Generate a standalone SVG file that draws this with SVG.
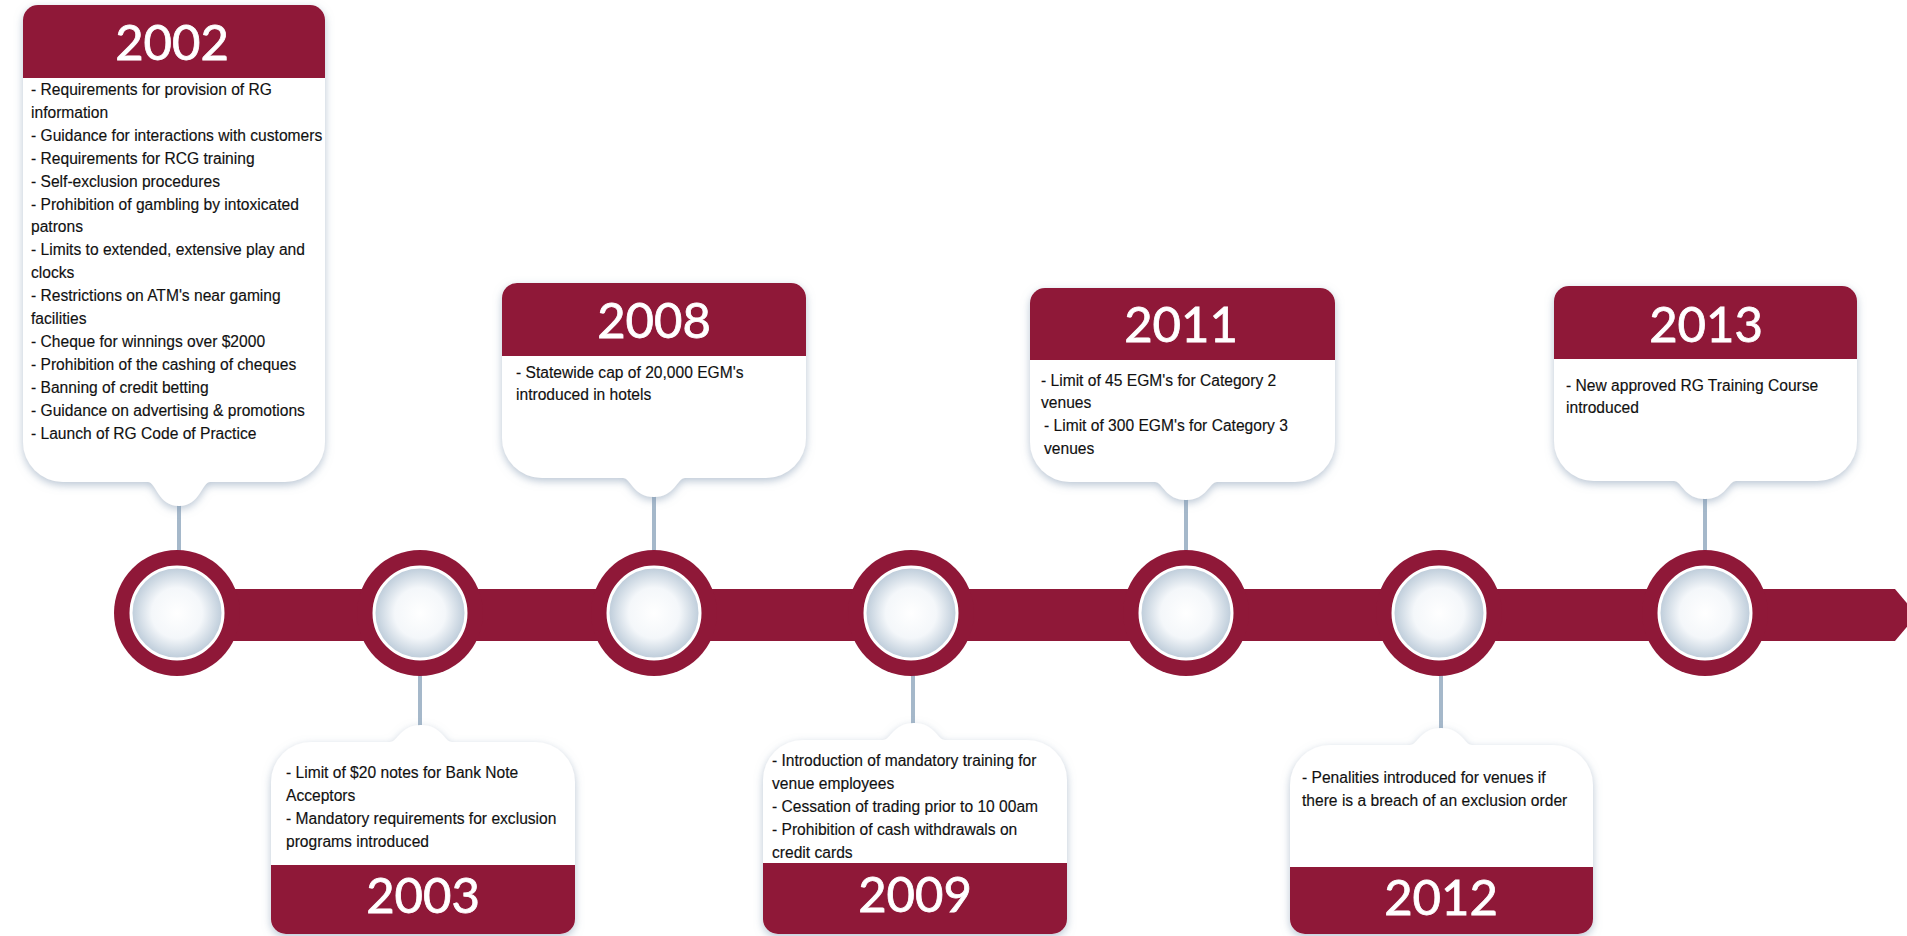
<svg xmlns="http://www.w3.org/2000/svg" width="1907" height="936" viewBox="0 0 1907 936">
<defs>
<filter id="sh" x="-10%" y="-10%" width="120%" height="125%">
<feDropShadow dx="0" dy="3" stdDeviation="4" flood-color="#7f97b0" flood-opacity="0.55"/>
</filter>
<radialGradient id="dot" cx="50%" cy="50%" r="50%">
<stop offset="0" stop-color="#ffffff"/>
<stop offset="0.55" stop-color="#f4f7fa"/>
<stop offset="1" stop-color="#bccbd9"/>
</radialGradient>
<style>
.card{fill:#ffffff;filter:url(#sh)}
.head{fill:#8f1838}
.year{font-family:Lato,"Liberation Sans",sans-serif;font-size:49px;fill:#ffffff;stroke:#ffffff;stroke-width:0.8;text-anchor:middle}
.body{font-family:"Liberation Sans",Arial,sans-serif;font-size:15.6px;fill:#111111;stroke:#111111;stroke-width:0.15}
.link{stroke:#a5b8ca;stroke-width:4;stroke-linecap:round;fill:none}
.ring{fill:#8f1838}
.hole{fill:url(#dot);stroke:#ffffff;stroke-width:3}
</style>
</defs>
<rect width="1907" height="936" fill="#ffffff"/>

<g id="connectors">
<line class="link" x1="179" y1="500" x2="179" y2="555"/>
<line class="link" x1="654" y1="492" x2="654" y2="555"/>
<line class="link" x1="1186" y1="495" x2="1186" y2="555"/>
<line class="link" x1="1705" y1="493" x2="1705" y2="555"/>
<line class="link" x1="420" y1="672" x2="420" y2="730"/>
<line class="link" x1="913" y1="672" x2="913" y2="728"/>
<line class="link" x1="1441" y1="672" x2="1441" y2="733"/>
</g>

<g id="timeline">
<path d="M177,589 H1895 L1917,615 L1895,641 H177 Z" fill="#8f1838"/>
</g>

<g id="dot-2002"><circle class="ring" cx="177" cy="613" r="63"/><circle class="hole" cx="177" cy="613" r="46"/></g>
<g id="dot-2003"><circle class="ring" cx="420" cy="613" r="63"/><circle class="hole" cx="420" cy="613" r="46"/></g>
<g id="dot-2008"><circle class="ring" cx="654" cy="613" r="63"/><circle class="hole" cx="654" cy="613" r="46"/></g>
<g id="dot-2009"><circle class="ring" cx="911" cy="613" r="63"/><circle class="hole" cx="911" cy="613" r="46"/></g>
<g id="dot-2011"><circle class="ring" cx="1186" cy="613" r="63"/><circle class="hole" cx="1186" cy="613" r="46"/></g>
<g id="dot-2012"><circle class="ring" cx="1439" cy="613" r="63"/><circle class="hole" cx="1439" cy="613" r="46"/></g>
<g id="dot-2013"><circle class="ring" cx="1705" cy="613" r="63"/><circle class="hole" cx="1705" cy="613" r="46"/></g>

<g id="card-2002">
<path class="card" d="M38,5 H310 A15,15 0 0 1 325,20 V442 A40,40 0 0 1 285,482 H210 C202,482 200,506 179,506 C158,506 156,482 148,482 H63 A40,40 0 0 1 23,442 V20 A15,15 0 0 1 38,5 Z"/>
<path class="head" d="M23,20 A15,15 0 0 1 38,5 H310 A15,15 0 0 1 325,20 V78 H23 Z"/>
<text class="year" x="172" y="60">2002</text>
<text class="body" x="31" y="95">- Requirements for provision of RG</text>
<text class="body" x="31" y="117.9">information</text>
<text class="body" x="31" y="140.8">- Guidance for interactions with customers</text>
<text class="body" x="31" y="163.7">- Requirements for RCG training</text>
<text class="body" x="31" y="186.6">- Self-exclusion procedures</text>
<text class="body" x="31" y="209.5">- Prohibition of gambling by intoxicated</text>
<text class="body" x="31" y="232.4">patrons</text>
<text class="body" x="31" y="255.3">- Limits to extended, extensive play and</text>
<text class="body" x="31" y="278.2">clocks</text>
<text class="body" x="31" y="301.1">- Restrictions on ATM's near gaming</text>
<text class="body" x="31" y="324">facilities</text>
<text class="body" x="31" y="346.9">- Cheque for winnings over $2000</text>
<text class="body" x="31" y="369.8">- Prohibition of the cashing of cheques</text>
<text class="body" x="31" y="392.7">- Banning of credit betting</text>
<text class="body" x="31" y="415.6">- Guidance on advertising &amp; promotions</text>
<text class="body" x="31" y="438.5">- Launch of RG Code of Practice</text>
</g>

<g id="card-2008">
<path class="card" d="M517,283 H791 A15,15 0 0 1 806,298 V438 A40,40 0 0 1 766,478 H685 C677,478 675,497 654,497 C633,497 631,478 623,478 H542 A40,40 0 0 1 502,438 V298 A15,15 0 0 1 517,283 Z"/>
<path class="head" d="M502,298 A15,15 0 0 1 517,283 H791 A15,15 0 0 1 806,298 V356 H502 Z"/>
<text class="year" x="654" y="338">2008</text>
<text class="body" x="516" y="377.5">- Statewide cap of 20,000 EGM's</text>
<text class="body" x="516" y="400.4">introduced in hotels</text>
</g>

<g id="card-2011">
<path class="card" d="M1045,288 H1320 A15,15 0 0 1 1335,303 V442 A40,40 0 0 1 1295,482 H1217 C1209,482 1207,500 1186,500 C1165,500 1163,482 1155,482 H1070 A40,40 0 0 1 1030,442 V303 A15,15 0 0 1 1045,288 Z"/>
<path class="head" d="M1030,303 A15,15 0 0 1 1045,288 H1320 A15,15 0 0 1 1335,303 V360 H1030 Z"/>
<text class="year" x="1181" y="342">2011</text>
<text class="body" x="1041" y="385.5">- Limit of 45 EGM's for Category 2</text>
<text class="body" x="1041" y="408.3">venues</text>
<text class="body" x="1044" y="431.1">- Limit of 300 EGM's for Category 3</text>
<text class="body" x="1044" y="453.9">venues</text>
</g>

<g id="card-2013">
<path class="card" d="M1569,286 H1842 A15,15 0 0 1 1857,301 V441 A40,40 0 0 1 1817,481 H1736 C1728,481 1726,499 1705,499 C1684,499 1682,481 1674,481 H1594 A40,40 0 0 1 1554,441 V301 A15,15 0 0 1 1569,286 Z"/>
<path class="head" d="M1554,301 A15,15 0 0 1 1569,286 H1842 A15,15 0 0 1 1857,301 V359 H1554 Z"/>
<text class="year" x="1706" y="342">2013</text>
<text class="body" x="1566" y="390.5">- New approved RG Training Course</text>
<text class="body" x="1566" y="413.4">introduced</text>
</g>

<g id="card-2003">
<path class="card" d="M311,742 H390 C398,742 400,725 421,725 C442,725 444,742 452,742 H535 A40,40 0 0 1 575,782 V919 A15,15 0 0 1 560,934 H286 A15,15 0 0 1 271,919 V782 A40,40 0 0 1 311,742 Z"/>
<path class="head" d="M271,865 H575 V919 A15,15 0 0 1 560,934 H286 A15,15 0 0 1 271,919 Z"/>
<text class="year" x="423" y="913">2003</text>
<text class="body" x="286" y="777.5">- Limit of $20 notes for Bank Note</text>
<text class="body" x="286" y="800.5">Acceptors</text>
<text class="body" x="286" y="823.5">- Mandatory requirements for exclusion</text>
<text class="body" x="286" y="846.5">programs introduced</text>
</g>

<g id="card-2009">
<path class="card" d="M803,740 H883 C891,740 893,723 914,723 C935,723 937,740 945,740 H1027 A40,40 0 0 1 1067,780 V919 A15,15 0 0 1 1052,934 H778 A15,15 0 0 1 763,919 V780 A40,40 0 0 1 803,740 Z"/>
<path class="head" d="M763,863 H1067 V919 A15,15 0 0 1 1052,934 H778 A15,15 0 0 1 763,919 Z"/>
<text class="year" x="915" y="912">2009</text>
<text class="body" x="772" y="765.5">- Introduction of mandatory training for</text>
<text class="body" x="772" y="788.5">venue employees</text>
<text class="body" x="772" y="811.5">- Cessation of trading prior to 10 00am</text>
<text class="body" x="772" y="834.5">- Prohibition of cash withdrawals on</text>
<text class="body" x="772" y="857.5">credit cards</text>
</g>

<g id="card-2012">
<path class="card" d="M1330,745 H1410 C1418,745 1420,728 1441,728 C1462,728 1464,745 1472,745 H1553 A40,40 0 0 1 1593,785 V919 A15,15 0 0 1 1578,934 H1305 A15,15 0 0 1 1290,919 V785 A40,40 0 0 1 1330,745 Z"/>
<path class="head" d="M1290,867 H1593 V919 A15,15 0 0 1 1578,934 H1305 A15,15 0 0 1 1290,919 Z"/>
<text class="year" x="1441" y="915">2012</text>
<text class="body" x="1302" y="782.5">- Penalities introduced for venues if</text>
<text class="body" x="1302" y="805.5">there is a breach of an exclusion order</text>
</g>
</svg>
